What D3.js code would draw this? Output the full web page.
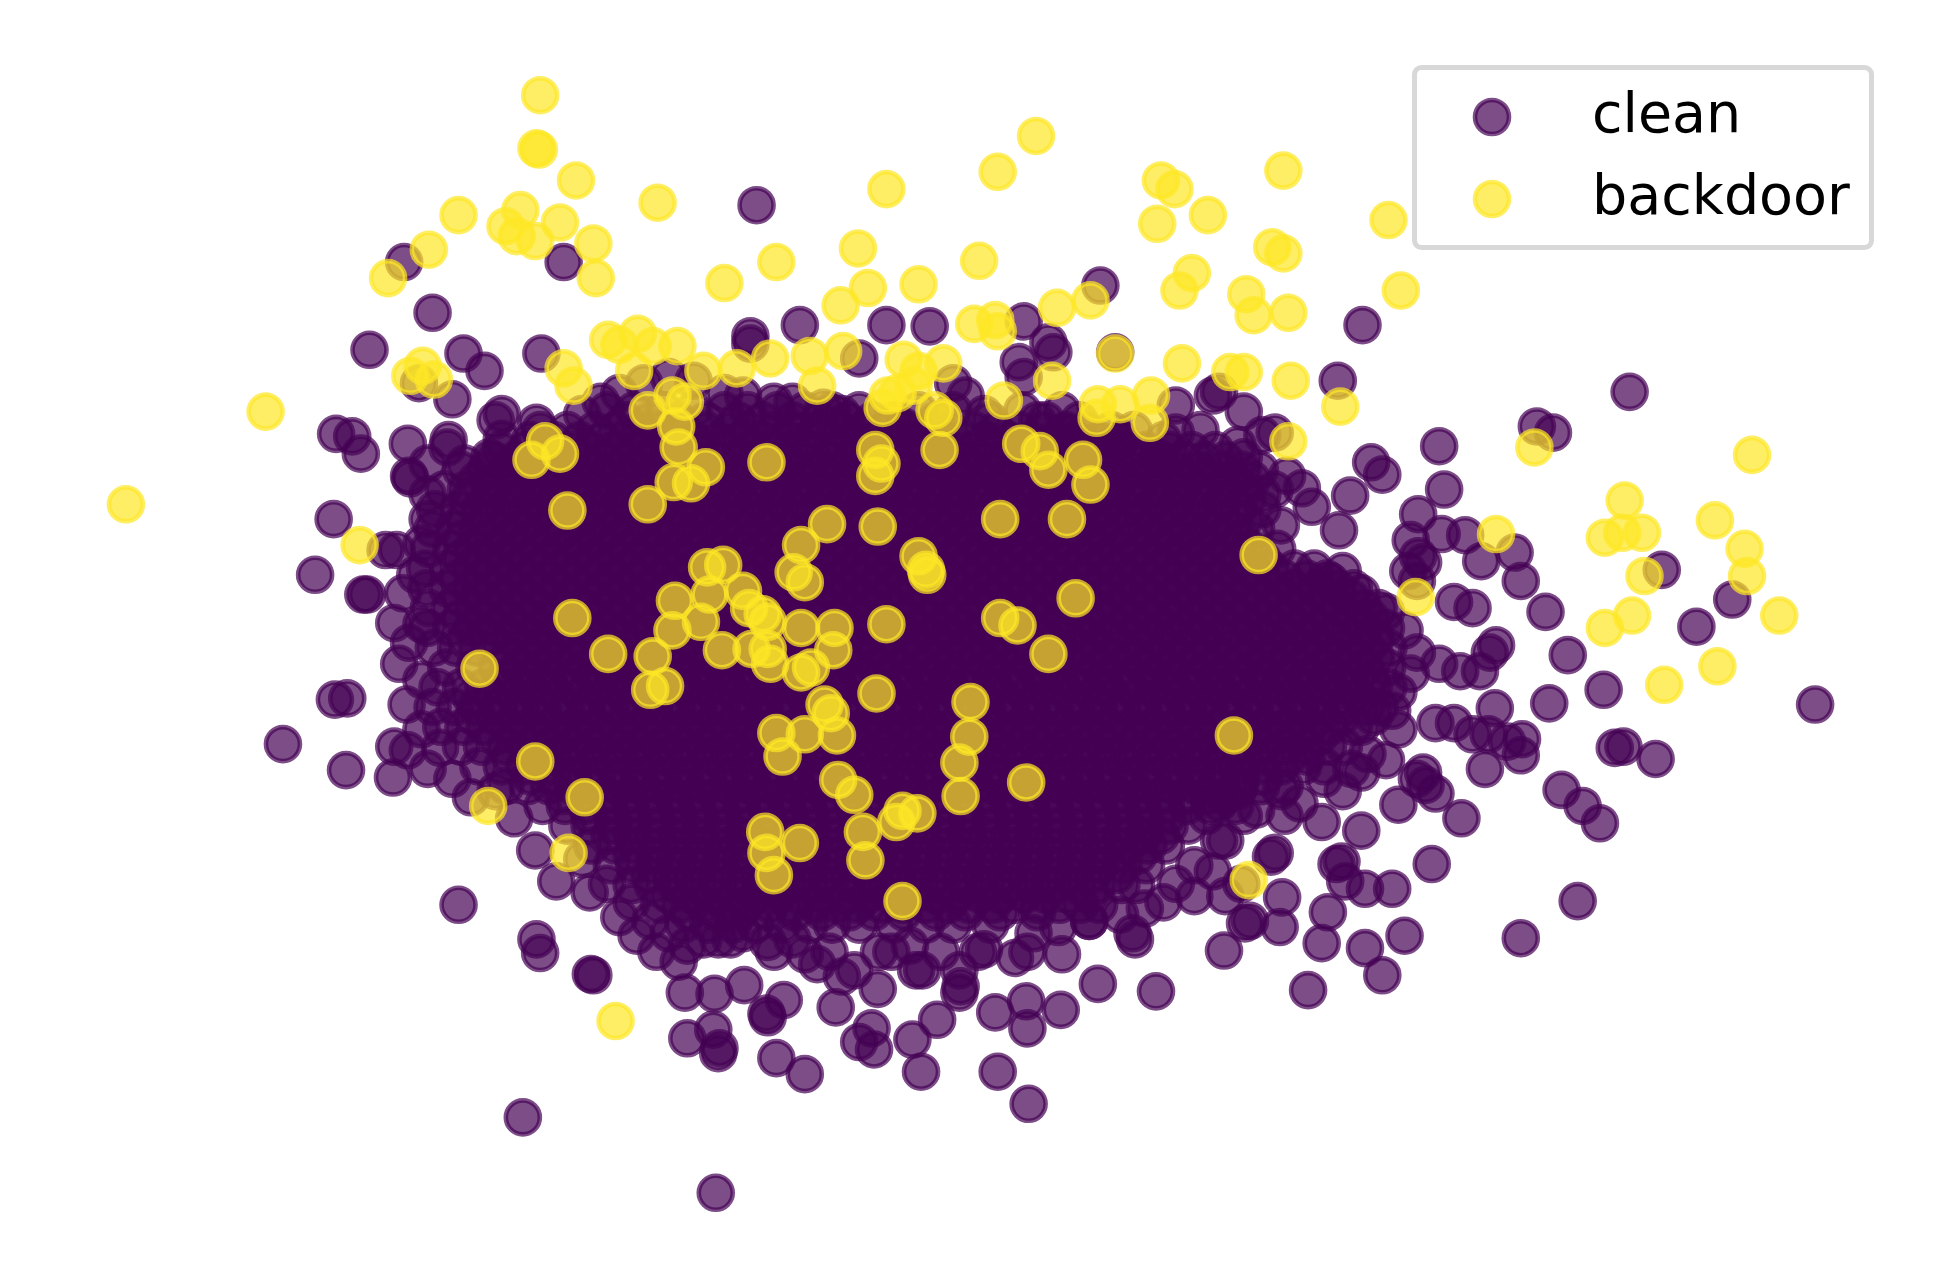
<!DOCTYPE html>
<html><head><meta charset="utf-8">
<script src="https://cdn.jsdelivr.net/npm/d3@7"></script>
<style>html,body{margin:0;padding:0;background:#fff}svg{display:block}</style>
</head><body>
<div id="chart"></div>
<script>
const labels = ["clean", "backdoor"];
const colors = ["#440154", "#fde725"];

const backdoorTop = [[436,77],[433,120],[435,121],[465,146],[370,174],[420,170],[408,183],[417,191],[432,195],[452,180],[479,197],[346,202],[313,225],[481,225],[531,164],[716,153],[806,139],[837,110],[938,146],[949,153],[976,174],[935,181],[1037,138],[1122,178],[1028,200],[1037,205],[1132,235],[627,212],[585,229],[693,201],[701,233],[742,230],[791,211],[679,247],[787,262],[804,259],[806,268],[854,249],[881,243],[963,221],[953,235],[1007,238],[1013,255],[1041,253],[955,294],[994,301],[1005,301],[1043,308],[1083,329],[1041,357],[1240,362],[1416,368],[214,333],[101,408],[331,304],[341,296],[350,307],[455,298],[463,312],[491,275],[515,270],[527,280],[547,280],[500,279],[512,300],[568,300],[595,298],[622,290],[654,288],[681,284],[660,312],[901,286],[850,308],[811,324],[730,291],[762,294],[742,300],[738,312],[717,320],[713,330],[725,318],[755,332],[762,338],[887,327],[905,327],[930,320],[929,342],[886,338]];
const backdoorMiddle = [[523,332],[543,320],[553,325],[546,345],[548,362],[440,357],[429,372],[452,367],[570,378],[544,390],[558,391],[619,374],[707,364],[712,375],[707,385],[759,364],[825,359],[840,365],[847,380],[875,372],[881,392],[458,413],[523,408],[668,424],[709,426],[808,420],[862,420],[290,441],[1209,432],[1017,449],[1297,435],[1311,431],[1327,431],[1313,405],[1386,421],[1410,444],[1412,466],[1329,466],[1438,498],[1345,554],[1388,539],[1297,508],[1319,498],[1144,483]];
const backdoorLower = [[647,441],[641,463],[650,471],[571,459],[584,457],[600,478],[742,450],[748,461],[749,465],[573,481],[545,486],[605,492],[616,497],[620,503],[566,503],[543,510],[647,508],[674,508],[462,500],[716,505],[808,500],[822,506],[869,484],[847,529],[673,526],[491,529],[583,526],[607,525],[620,525],[622,537],[527,531],[655,540],[647,544],[525,558],[537,555],[387,541],[708,561],[666,570],[671,577],[784,568],[783,596],[627,593],[650,594],[676,595],[997,595],[632,612],[775,617],[432,616],[677,631],[690,643],[776,644],[829,633],[472,645],[394,652],[741,658],[729,656],[724,665],[697,673],[618,673],[646,682],[459,690],[619,690],[699,696],[625,708],[729,729],[1009,712],[497,826]];

const cleanUpper = [[611,166],[326,212],[455,212],[349,253],[298,283],[374,286],[391,300],[437,286],[365,323],[338,310],[405,335],[400,340],[433,342],[271,351],[284,353],[291,367],[329,359],[362,356],[361,362],[331,387],[345,400],[269,420],[254,465],[293,481],[296,481],[311,445],[320,445],[318,504],[606,272],[606,278],[646,263],[716,263],[751,264],[694,290],[827,260],[847,277],[851,285],[823,293],[827,305],[889,231],[901,285],[1101,263],[1081,308],[980,320],[985,317],[950,328],[970,348],[1005,333],[1020,352],[1000,360],[1030,350],[1317,317],[1242,345],[1255,350]];
const cleanRight = [[1163,361],[1108,374],[1117,384],[1167,396],[1091,401],[1146,416],[1082,429],[1140,437],[1146,450],[1165,432],[1184,433],[1197,454],[1224,447],[1229,470],[1249,495],[1343,461],[1400,485],[1371,507],[1467,570],[1267,530],[1296,558],[1252,569],[1208,573],[1163,537],[1180,543],[1196,543],[1209,522],[1204,528],[1175,487],[1190,492],[1138,462],[1145,470],[1150,455],[1305,605],[1312,604],[1338,614],[1229,611],[1230,598],[1218,600],[1200,622],[1190,594],[1203,594],[1160,585],[1175,585],[1181,662],[1262,639],[1279,652],[1293,666],[1157,699],[1275,729],[1229,759],[1135,757],[1100,672],[1125,719],[1103,719],[1087,713],[1080,699],[1084,697],[1073,738],[1068,763],[1103,767],[1117,789],[1057,801],[1036,726],[1034,750],[1010,745],[1006,747],[989,769],[1068,665],[1038,660],[1150,625],[1152,635],[1160,642],[1130,651],[1145,630],[1120,615],[1092,622],[1027,693],[1030,690],[990,680],[985,680],[1005,660]];
const cleanLower = [[934,802],[887,796],[857,817],[228,602],[270,566],[280,565],[279,623],[318,604],[329,607],[317,629],[345,622],[370,732],[433,760],[436,771],[477,788],[479,789],[422,904],[578,965],[831,893],[806,867],[744,867],[650,869],[627,856],[580,852],[581,848],[555,840],[576,833],[553,803],[577,804],[601,797],[619,820],[620,823],[633,809],[675,815],[694,843],[704,832],[706,849],[737,841],[757,825],[709,800],[804,819],[830,832],[829,810],[776,798],[775,803],[740,785],[415,662],[432,688],[449,713],[476,722],[500,742],[514,757],[530,770],[548,778],[568,760],[590,760],[620,762],[650,772],[680,790],[720,770],[760,770],[795,768],[830,770],[858,772],[880,745],[915,755],[917,760],[940,730],[965,725],[990,725],[1003,715]];
const cleanRim = [[470,335],[485,325],[500,318],[520,310],[540,305],[560,308],[585,318],[600,320],[625,325],[640,325],[665,330],[680,335],[705,340],[730,345],[780,320],[795,335],[770,310],[845,340],[860,350],[905,355],[950,350],[935,370],[1005,370],[1040,385],[1052,395],[1020,400],[1060,410],[1035,425],[1075,470],[1085,462],[1100,480],[1120,495],[1135,510],[1145,528],[1140,545],[1130,560],[1125,575],[1110,580],[1130,590],[1105,610],[1100,625],[1070,630],[1085,640],[1050,650],[1035,640],[1015,655],[975,660],[985,650],[1000,640],[470,695],[490,715],[510,730],[525,745],[540,755],[555,765],[580,760],[600,755],[625,770],[640,760],[660,780],[670,770],[690,785],[710,770],[735,765],[745,785],[775,785],[790,770],[820,775],[835,755],[855,750],[880,745],[905,740],[925,735],[950,715],[965,700],[980,705],[330,520],[322,537],[340,550],[328,570],[340,590],[355,605],[365,630],[380,645],[400,640],[345,420],[340,440],[335,465],[325,480],[340,505],[330,385],[345,375],[375,375],[395,370],[405,355]];

const coreRowY = [332,348,364,380,396,412,428,444,460,476,492,508,524,540,556,572,588,604,620,636,652,668,684,700,716,732,748];
const coreRowX = [
[490,512,536,560,585,604,628,650,672,694,742,770,826,858],
[436,458,480,497,516,533,552,570,589,606,625,642,660,679,696,715,732,751,768,787,805,824,842,861,878,898,916],
[404,424,441,460,476,495,513,530,549,566,585,603,620,639,656,675,693,710,729,746,765,783,800,819,836,855,873,890,909,926,945,963,982],
[372,392,410,428,447,464,483,501,518,537,554,573,591,608,627,644,663,681,698,717,734,753,771,788,807,824,843,861,878,897,914,933,951,968,987,1004,1018],
[358,376,395,413,430,449,466,485,503,520,539,556,575,593,610,629,646,665,683,700,719,736,755,773,790,809,826,845,863,880,899,916,935,953,970,989,1006,1030],
[351,370,387,406,424,441,460,477,496,514,531,550,567,586,604,621,640,657,676,694,711,730,747,766,784,801,820,837,856,874,891,910,927,946,964,981,1000,1020],
[349,366,385,403,420,439,456,475,493,510,529,546,565,583,600,619,636,655,673,690,709,726,745,763,780,799,816,835,853,870,889,906,925,943,960,979,996,1015],
[346,364,381,400,418,435,454,471,490,508,525,544,561,580,598,615,634,651,670,688,705,724,741,760,778,795,814,831,850,868,885,904,921,940,958,975,994,1011,1032],
[343,362,380,397,416,433,452,470,487,506,523,542,560,577,596,613,632,650,667,686,703,722,740,757,776,793,812,830,847,866,883,902,920,937,956,973,992,1010,1027,1046,1062],
[344,361,380,398,415,434,451,470,488,505,524,541,560,578,595,614,631,650,668,685,704,721,740,758,775,794,811,830,848,865,884,901,920,938,955,974,991,1010,1028,1045,1064,1081,1094],
[346,363,382,400,417,436,453,472,490,507,526,543,562,580,597,616,633,652,670,687,706,723,742,760,777,796,813,832,850,867,886,903,922,940,957,976,993,1012,1030,1047,1066,1083,1102,1114],
[345,364,381,400,418,435,454,471,490,508,525,544,561,580,598,615,634,651,670,688,705,724,741,760,778,795,814,831,850,868,885,904,921,940,958,975,994,1011,1030,1048,1065,1084,1101,1120],
[350,368,385,404,422,439,458,475,494,512,529,548,565,584,602,619,638,655,674,692,709,728,745,764,782,799,818,835,854,872,889,908,925,944,962,979,998,1015,1034,1052,1069,1088,1105,1122],
[360,383,401,418,437,454,473,491,508,527,544,563,581,598,617,634,653,671,688,707,724,743,761,778,797,814,833,851,868,887,904,923,941,958,977,994,1013,1031,1048,1067,1084,1103,1121],
[353,372,390,407,426,443,462,480,497,516,533,552,570,587,606,623,642,660,677,696,713,732,750,767,786,803,822,840,857,876,893,912,930,947,966,983,1002,1020,1037,1056,1073,1092,1110,1122],
[349,367,384,403,421,438,457,474,493,511,528,547,564,583,601,618,637,654,673,691,708,727,744,763,781,798,817,834,853,871,888,907,924,943,961,978,997,1014,1033,1051,1068,1087,1104,1115],
[356,374,391,410,428,445,464,481,500,518,535,554,571,590,608,625,644,661,680,698,715,734,751,770,788,805,824,841,860,878,895,914,931,950,968,985,1004,1021,1040,1058,1075,1094,1100],
[372,389,408,426,443,462,479,498,516,533,552,569,588,606,623,642,659,678,696,713,732,749,768,786,803,822,839,858,876,893,912,929,948,966,983,1002,1019,1038,1056,1073,1086],
[386,405,423,440,459,476,495,513,530,549,566,585,603,620,639,656,675,693,710,729,746,765,783,800,819,836,855,873,890,909,926,945,963,980,999,1016,1035,1053,1070],
[408,426,443,462,479,498,516,533,552,569,588,606,623,642,659,678,696,713,732,749,768,786,803,822,839,858,876,893,912,929,948,966,983,1002,1019,1038],
[438,456,473,492,509,528,546,563,582,599,618,636,653,672,689,708,726,743,762,779,798,816,833,852,869,888,906,923,942,959,978,998],
[458,476,495,512,531,549,566,585,602,621,639,656,675,692,711,729,746,765,782,801,819,836,855,872,891,909,926,945,960],
[478,497,514,533,551,568,587,604,623,641,658,677,694,713,731,748,767,784,803,821,838,857,874,893,911,928,942],
[494,512,529,548,566,583,602,619,638,656,673,692,709,728,746,763,782,799,818,836,853,872,889,908,926],
[510,527,546,564,581,600,617,636,654,671,690,707,726,744,761,780,797,816,834,851,870,887,906,918],
[532,549,568,586,603,622,639,658,676,693,712,729,748,766,783,802,819,838,856,873,888],
[552,572,592,610,632,654,672,694,722,748,770,800]
];
const denseRowY = [340,356,372,388,404,420,436,452,468,484,500,516,532,548,564,580,596,612,628,644,660,676,692,708,724,738];
const denseRowX = [
[505,525,548,570,596,616,640,662,684,722,756,800,838,872],
[428,447,468,487,506,524,542,561,579,598,616,634,652,671,688,707,724,742,760,778,796,815,833,851,870,888,906,940],
[398,416,434,452,468,487,505,522,541,558,577,595,612,631,648,667,685,702,721,738,757,775,792,811,828,847,865,882,901,918,937,955,973,990],
[385,403,421,439,456,475,493,510,529,546,565,583,600,619,636,655,673,690,709,726,745,763,780,799,816,835,853,870,889,906,925,943,960,979,996,1012],
[378,396,414,432,449,468,486,503,522,539,558,576,593,612,629,648,666,683,702,719,738,756,773,792,809,828,846,863,882,899,918,936,953,972,989,1008],
[375,394,412,430,447,466,484,501,520,537,556,574,591,610,627,646,664,681,700,717,736,754,771,790,807,826,844,861,880,897,916,934,951,970,987,1006],
[372,391,409,427,444,463,481,498,517,534,553,571,588,607,624,643,661,678,697,714,733,751,768,787,804,823,841,858,877,894,913,931,948,967,984,1003],
[372,390,408,426,443,462,480,497,516,533,552,570,587,606,623,642,660,677,696,713,732,750,767,786,803,822,840,857,876,893,912,930,947,966,983,1002,1020],
[370,389,407,425,442,461,479,496,515,532,551,569,586,605,622,641,659,676,695,712,731,749,766,785,802,821,839,856,875,892,911,929,946,965,982,1001,1019,1038,1056,1072],
[372,390,408,426,443,462,480,497,516,533,552,570,587,606,623,642,660,677,696,713,732,750,767,786,803,822,840,857,876,893,912,930,947,966,983,1002,1020,1037,1056,1074,1092],
[372,391,409,427,444,463,481,498,517,534,553,571,588,607,624,643,661,678,697,714,733,751,768,787,804,823,841,858,877,894,913,931,948,967,984,1003,1021,1039,1057,1075,1093,1108],
[376,395,413,431,448,467,485,502,521,538,557,575,592,611,628,647,665,682,701,718,737,755,772,791,808,827,845,862,881,898,917,935,952,971,988,1007,1025,1043,1061,1079,1097,1112],
[412,430,447,466,484,501,520,537,556,574,591,610,627,646,664,681,700,717,736,754,771,790,807,826,844,861,880,897,916,934,951,970,987,1006,1024,1042,1060,1078,1096,1112],
[408,426,443,462,480,497,516,533,552,570,587,606,623,642,660,677,696,713,732,750,767,786,803,822,840,857,876,893,912,930,947,966,983,1002,1020,1038,1056,1074,1092,1108],
[380,398,416,434,451,470,488,505,524,541,560,578,595,614,631,650,668,685,704,721,740,758,775,794,811,830,848,865,884,901,920,938,955,974,991,1010,1028,1046,1064,1082,1098],
[382,400,418,436,453,472,490,507,526,543,562,580,597,616,633,652,670,687,706,723,742,760,777,796,813,832,850,867,886,903,922,940,957,976,993,1012,1030,1048,1066,1084],
[400,418,436,453,472,490,507,526,543,562,580,597,616,633,652,670,687,706,723,742,760,777,796,813,832,850,867,886,903,922,940,957,976,993,1012,1030,1048,1066],
[412,430,447,466,484,501,520,537,556,574,591,610,627,646,664,681,700,717,736,754,771,790,807,826,844,861,880,897,916,934,951,970,987,1006,1024,1042,1056],
[428,446,463,482,500,517,536,553,572,590,607,626,643,662,680,697,716,733,752,770,787,806,823,842,860,877,896,913,932,950,967,986,1003,1022],
[454,472,489,508,526,543,562,579,598,616,633,652,669,688,706,723,742,759,778,796,813,832,849,868,886,903,922,939,958,976,990],
[476,494,511,530,548,565,584,601,620,638,655,674,691,710,728,745,764,781,800,818,835,854,871,890,908,925,944],
[492,510,527,546,564,581,600,617,636,654,671,690,707,726,744,761,780,797,816,834,851,870,887,906,924,938],
[510,528,545,564,582,599,618,635,654,672,689,708,725,744,762,779,798,815,834,852,869,888,905,920],
[524,542,559,578,596,613,632,649,668,686,703,722,739,758,776,793,812,829,848,866,883,902],
[540,558,575,594,612,629,648,665,684,702,719,738,755,774,792,809,828,845,864,880],
[556,578,598,620,642,664,686,706,730,756,780,808,838]
];
const cleanCore = [...coreRowX.flatMap((xs, i) => xs.map(x => [x, coreRowY[i]])),
                   ...denseRowX.flatMap((xs, i) => xs.map(x => [x, denseRowY[i]]))];

const clean = [...cleanCore, ...cleanRim, ...cleanUpper, ...cleanRight, ...cleanLower];
const backdoor = [...backdoorTop, ...backdoorMiddle, ...backdoorLower];

const W = 1939, H = 1288;
const x = d3.scaleLinear().domain([0, 1568]).range([1, W + 1]);
const y = d3.scaleLinear().domain([0, 1042]).range([0, H]);
const R = 17, SW = 4.6, A = 0.7;

const svg = d3.select("#chart").append("svg").attr("width", W).attr("height", H)
  .style("background", "#fff");

[clean, backdoor].forEach((pts, i) => {
  svg.append("g").attr("class", "series-" + labels[i])
    .selectAll("circle").data(pts).join("circle")
    .attr("cx", d => x(d[0])).attr("cy", d => y(d[1])).attr("r", R)
    .attr("fill", colors[i]).attr("fill-opacity", A)
    .attr("stroke", colors[i]).attr("stroke-opacity", A).attr("stroke-width", SW);
});

const lg = svg.append("g").attr("class", "legend");
lg.append("rect").attr("x", 1414.5).attr("y", 67.5).attr("width", 457).attr("height", 180).attr("rx", 7)
  .attr("fill", "#fff").attr("fill-opacity", 0.8).attr("stroke", "#d8d8d8").attr("stroke-width", 5);
const rows = lg.selectAll("g.item").data(labels).join("g").attr("class", "item")
  .attr("transform", (d, i) => `translate(0,${i * 82})`);
rows.append("circle").attr("cx", 1492).attr("cy", 117).attr("r", R)
  .attr("fill", (d, i) => colors[i]).attr("fill-opacity", A)
  .attr("stroke", (d, i) => colors[i]).attr("stroke-opacity", A).attr("stroke-width", SW);
rows.append("text").attr("x", 1592).attr("y", 132).text(d => d)
  .attr("font-family", "'DejaVu Sans'").attr("font-size", 55.5).attr("fill", "#000");
</script>
</body></html>
